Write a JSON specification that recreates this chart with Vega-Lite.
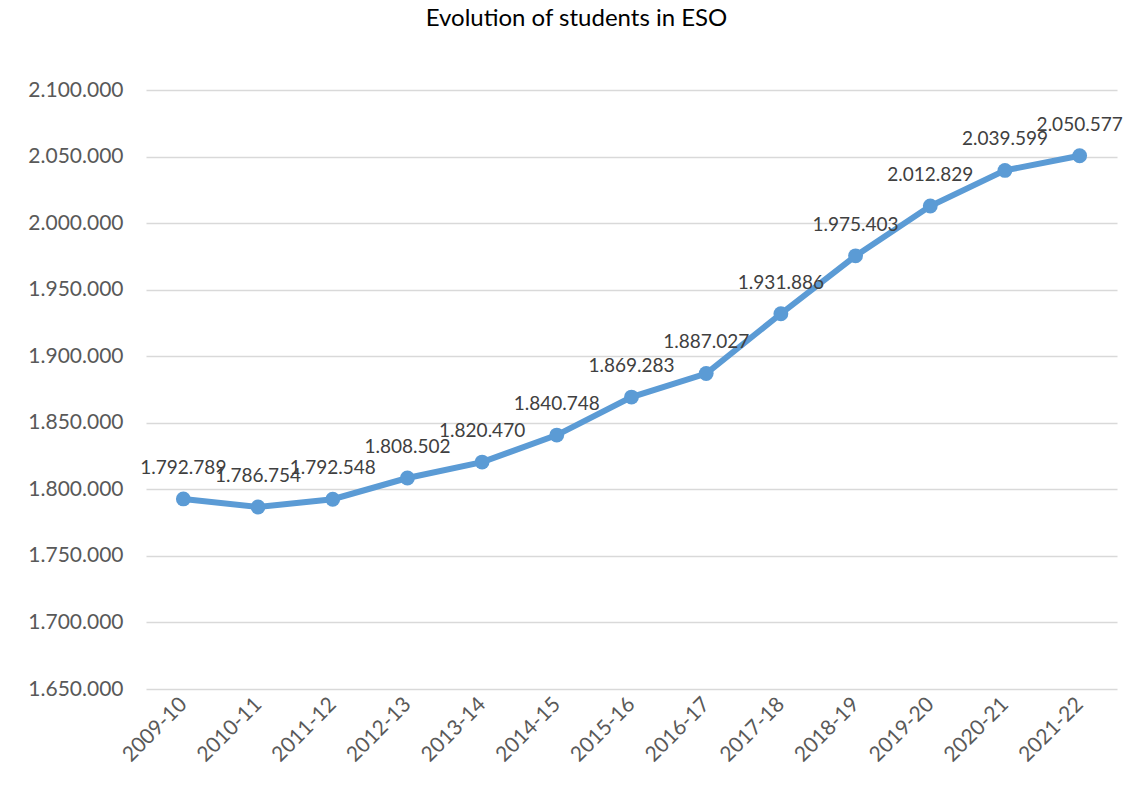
{
  "$schema": "https://vega.github.io/schema/vega-lite/v6.json",
  "autosize": "none",
  "width": 971,
  "height": 599,
  "padding": {"left": 146, "top": 90, "right": 20, "bottom": 108},
  "background": "white",
  "config": {
    "locale": {"number": {"decimal": ",", "thousands": ".", "grouping": [3], "currency": ["", "€"]}},
    "view": {"stroke": null},
    "font": "Lato"
  },
  "title": {
    "text": "Evolution of students in ESO",
    "fontSize": 24,
    "fontWeight": "normal",
    "color": "#000000",
    "font": "Lato",
    "offset": 48,
    "dx": -55,
    "anchor": "middle"
  },
  "data": {
    "values": [
      {"year": "2009-10", "students": 1792789},
      {"year": "2010-11", "students": 1786754},
      {"year": "2011-12", "students": 1792548},
      {"year": "2012-13", "students": 1808502},
      {"year": "2013-14", "students": 1820470},
      {"year": "2014-15", "students": 1840748},
      {"year": "2015-16", "students": 1869283},
      {"year": "2016-17", "students": 1887027},
      {"year": "2017-18", "students": 1931886},
      {"year": "2018-19", "students": 1975403},
      {"year": "2019-20", "students": 2012829},
      {"year": "2020-21", "students": 2039599},
      {"year": "2021-22", "students": 2050577}
    ]
  },
  "encoding": {
    "x": {
      "field": "year",
      "type": "ordinal",
      "sort": null,
      "axis": {
        "title": null,
        "labelAngle": -45,
        "labelAlign": "right",
        "labelBaseline": "middle",
        "labelFontSize": 21,
        "labelColor": "#595959",
        "labelPadding": 12,
        "domain": false,
        "ticks": false,
        "grid": false
      }
    },
    "y": {
      "field": "students",
      "type": "quantitative",
      "scale": {"domain": [1650000, 2100000], "nice": false, "zero": false},
      "axis": {
        "title": null,
        "values": [1650000, 1700000, 1750000, 1800000, 1850000, 1900000, 1950000, 2000000, 2050000, 2100000],
        "format": ",d",
        "labelFontSize": 21,
        "labelColor": "#595959",
        "labelPadding": 23,
        "domain": false,
        "ticks": false,
        "grid": true,
        "gridColor": "#d9d9d9",
        "gridWidth": 1.5
      }
    }
  },
  "layer": [
    {"mark": {"type": "line", "color": "#5b9bd5", "strokeWidth": 6}},
    {"mark": {"type": "point", "filled": true, "color": "#5b9bd5", "size": 220, "opacity": 1}},
    {
      "mark": {"type": "text", "dy": -31, "baseline": "middle", "fontSize": 19, "color": "#404040"},
      "encoding": {"text": {"field": "students", "type": "quantitative", "format": ",d"}}
    }
  ]
}
